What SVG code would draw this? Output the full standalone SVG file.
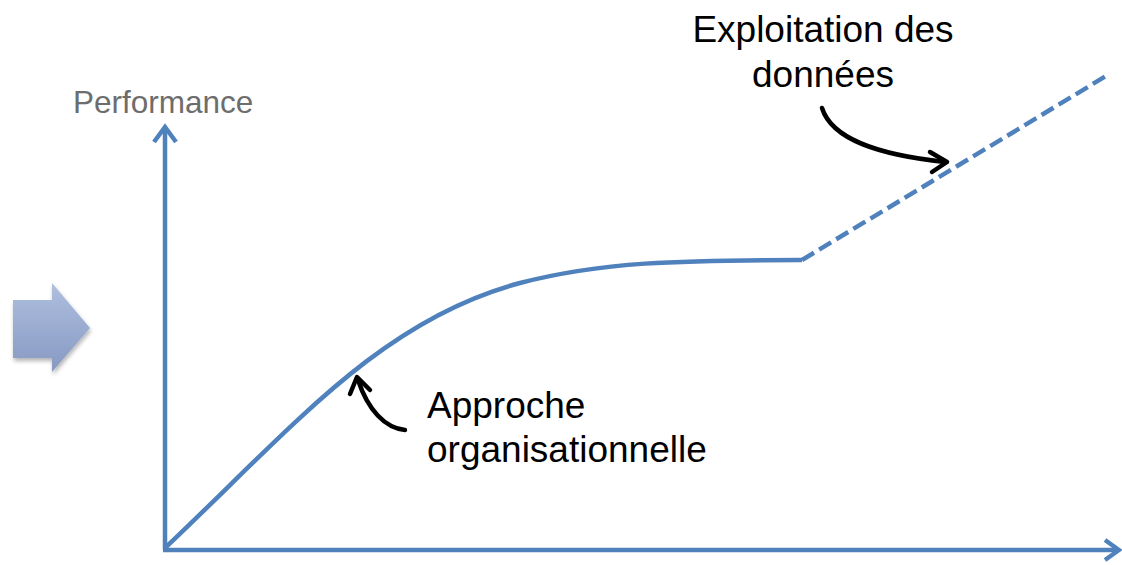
<svg xmlns="http://www.w3.org/2000/svg" width="1122" height="565" viewBox="0 0 1122 565">
<style>
.ax{fill:none;stroke:#4f81bd;stroke-width:4.5}
.bk{fill:none;stroke:#000;stroke-width:4.5;stroke-linecap:round;stroke-linejoin:round}
.t{font-family:"Liberation Sans",Arial,sans-serif;font-size:37px;fill:#000}
</style>
<defs>
<linearGradient id="g" x1="0" y1="0" x2="0" y2="1">
<stop offset="0" stop-color="#aebfdf"/>
<stop offset="1" stop-color="#8799c2"/>
</linearGradient>
<filter id="sh" x="-20%" y="-20%" width="140%" height="140%">
<feGaussianBlur in="SourceAlpha" stdDeviation="2"/>
<feOffset dx="1" dy="3"/>
<feComponentTransfer><feFuncA type="linear" slope="0.3"/></feComponentTransfer>
<feMerge><feMergeNode/><feMergeNode in="SourceGraphic"/></feMerge>
</filter>
</defs>
<g id="bigarrow" filter="url(#sh)">
<path d="M13,300 H52 V283 L90,328 L52,372 V358 H13 Z" fill="url(#g)"/>
</g>
<g id="axes">
<path class="ax" d="M165,550 V128"/>
<path class="ax" d="M154,142 L165,127 L176,142"/>
<path class="ax" d="M163,550 H1118"/>
<path class="ax" d="M1105,540 L1119,550 L1105,560"/>
</g>
<g id="curves">
<path class="ax" d="M165,548 C290,430 380,320 520,283 C600,262 680,260 802,260"/>
<path class="ax" d="M802,260 L1106,76" stroke-dasharray="14,6"/>
</g>
<g id="connectors">
<path class="bk" d="M822,108 C832,140 880,155 945,162"/>
<path class="bk" d="M930,152 L947,162 L932,172"/>
<path class="bk" d="M405,430 C385,428 368,410 358,380"/>
<path class="bk" d="M350,394 L357,377 L370,390"/>
</g>
<g id="labels">
<text x="73" y="113" style="font-family:'Liberation Sans',Arial,sans-serif;font-size:31.5px;fill:#6d6d6d">Performance</text>
<text class="t" x="823" y="42" text-anchor="middle">Exploitation des</text>
<text class="t" x="823" y="87" text-anchor="middle">données</text>
<text class="t" x="427" y="418">Approche</text>
<text class="t" x="427" y="462">organisationnelle</text>
</g>
</svg>
